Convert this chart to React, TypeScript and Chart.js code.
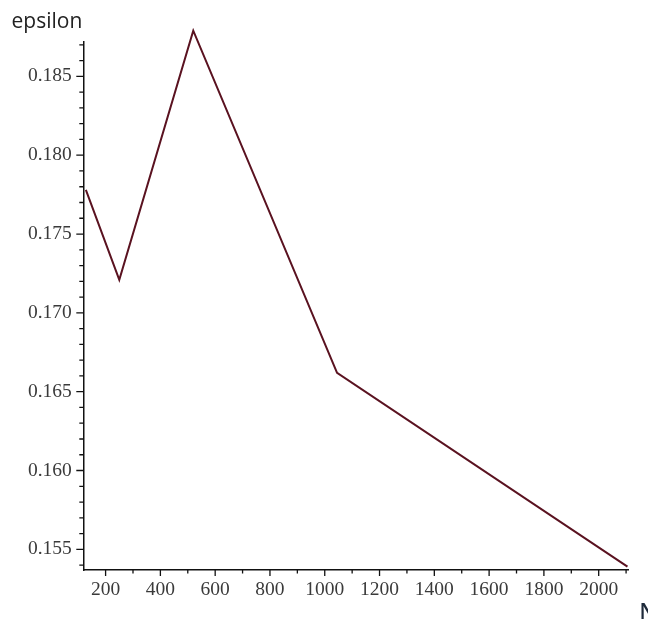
import React, { useEffect, useRef } from "react";
import { Chart, registerables } from "chart.js";

Chart.register(...registerables);

// Data
const nValues = [128, 250, 520, 1045, 2105];
const epsilonValues = [0.1778, 0.1721, 0.1879, 0.1662, 0.1539];

// Axis settings
const xMin = 118.6;
const xMax = 2107;
const xMinorStep = 100;
const xMajorStep = 200;
const yMin = 0.15369;
const yMax = 0.18718;
const yMinorStep = 0.001;
const yMajorStep = 0.005;

const isMultiple = (v: number, step: number) =>
  Math.abs(v / step - Math.round(v / step)) < 1e-6;

const tickFont = { family: "'Liberation Serif', 'Times New Roman', serif", size: 19.5 };
const tickColor = "#3a3a3a";

const tickMarks = {
  id: "tickMarks",
  afterDraw(chart: any) {
    const ctx = chart.ctx;
    ctx.save();
    ctx.strokeStyle = "#111";
    ctx.lineWidth = 1.3;
    const xs = chart.scales.x;
    const ys = chart.scales.y;
    ctx.beginPath();
    xs.ticks.forEach((t: any) => {
      const px = xs.getPixelForValue(t.value);
      const len = isMultiple(t.value, xMajorStep) ? 6 : 3.5;
      ctx.moveTo(px, xs.top);
      ctx.lineTo(px, xs.top + len);
    });
    ys.ticks.forEach((t: any) => {
      const py = ys.getPixelForValue(t.value);
      const len = isMultiple(t.value, yMajorStep) ? 7 : 4;
      ctx.moveTo(ys.right, py);
      ctx.lineTo(ys.right - len, py);
    });
    ctx.stroke();
    ctx.restore();
  },
};

export default function App() {
  const canvasRef = useRef<HTMLCanvasElement | null>(null);

  useEffect(() => {
    if (!canvasRef.current) return;
    const chart = new Chart(canvasRef.current, {
      type: "line",
      data: {
        datasets: [
          {
            data: nValues.map((n, i) => ({ x: n, y: epsilonValues[i] })),
            borderColor: "#5a1220",
            borderWidth: 2,
            pointRadius: 0,
            tension: 0,
            clip: false as any,
          },
        ],
      },
      options: {
        animation: false,
        responsive: false,
        events: [],
        layout: { padding: { top: 42, right: 20, left: 0, bottom: 0 } },
        plugins: { legend: { display: false }, tooltip: { enabled: false } },
        scales: {
          x: {
            type: "linear",
            min: xMin,
            max: xMax,
            afterFit: (s: any) => {
              s.height = 49;
            },
            afterBuildTicks: (s: any) => {
              s.ticks = s.ticks.filter((t: any) => isMultiple(t.value, xMinorStep));
            },
            ticks: {
              stepSize: xMinorStep,
              includeBounds: false,
              autoSkip: false,
              maxRotation: 0,
              padding: 8,
              font: tickFont,
              color: tickColor,
              callback: (v: any) => (isMultiple(v, xMajorStep) ? String(Math.round(v)) : ""),
            },
            grid: { display: false, drawTicks: false },
            border: { display: true, color: "#111", width: 1.5 },
          },
          y: {
            type: "linear",
            min: yMin,
            max: yMax,
            afterFit: (s: any) => {
              s.width = 83.3;
            },
            afterBuildTicks: (s: any) => {
              s.ticks = s.ticks.filter((t: any) => isMultiple(t.value, yMinorStep));
            },
            ticks: {
              stepSize: yMinorStep,
              includeBounds: false,
              autoSkip: false,
              padding: 11.5,
              font: tickFont,
              color: tickColor,
              callback: (v: any) => (isMultiple(v, yMajorStep) ? Number(v).toFixed(3) : ""),
            },
            grid: { display: false, drawTicks: false },
            border: { display: true, color: "#111", width: 1.5 },
          },
        },
      },
      plugins: [tickMarks],
    });
    return () => chart.destroy();
  }, []);

  return (
    <div
      style={{
        position: "fixed",
        left: 0,
        top: 0,
        width: 648,
        height: 619,
        overflow: "hidden",
        background: "#fff",
      }}
    >
      <canvas ref={canvasRef} width={648} height={619} style={{ display: "block" }} />
      <span
        style={{
          position: "absolute",
          left: 11.5,
          top: 9.7,
          fontFamily: "'Open Sans', sans-serif",
          fontSize: 21,
          lineHeight: 1,
          color: "#222",
          whiteSpace: "nowrap",
        }}
      >
        epsilon
      </span>
      <span
        style={{
          position: "absolute",
          left: 639.5,
          top: 601.4,
          fontFamily: "'Open Sans', sans-serif",
          fontSize: 21,
          lineHeight: 1,
          fontWeight: 600,
          color: "#1e2a3a",
          whiteSpace: "nowrap",
        }}
      >
        N
      </span>
    </div>
  );
}
